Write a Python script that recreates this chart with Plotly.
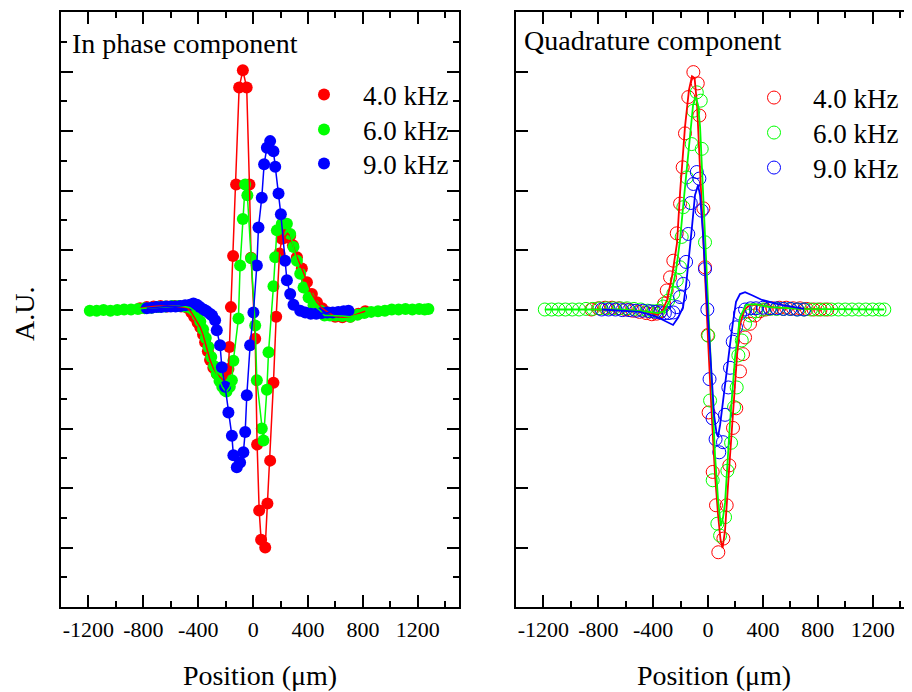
import plotly.graph_objects as go

# ---------------- data (position in µm, signal in A.U.) ----------------
# In-phase component (left panel)
ip_red_x = [-825, -775, -725, -675, -625, -575, -525, -480, -450, -430, -405, -385, -365, -350, -330, -314,
            -290, -265, -240, -217, -195, -180, -173, -162, -146, -124, -102, -75, -47, -27, -15, 15, 29, 44,
            58, 88, 104, 124, 148, 168, 192, 209, 225, 250, 270, 290, 319, 355, 392, 428, 465, 503, 547, 598,
            650, 708, 766, 817]
ip_red_y = [0.02, 0.04, 0.05, 0.06, 0.05, 0.06, 0.05, 0.03, -0.05, -0.12, -0.22, -0.3, -0.42, -0.55, -0.7,
            -0.85, -0.98, -1.08, -1.14, -1.19, -1.15, -1.0, -0.63, 0.04, 0.9, 2.1, 3.73, 4.02, 3.73, 2.1, 0.87,
            -0.49, -2.27, -3.38, -3.87, -4.0, -3.26, -2.54, -1.23, -0.12, 0.94, 1.19, 1.2, 1.28, 1.24, 1.08,
            0.88, 0.69, 0.46, 0.26, 0.12, 0.02, -0.05, -0.12, -0.13, -0.12, -0.07, -0.03]

ip_green_x = [-1190, -1140, -1090, -1040, -990, -940, -890, -840, -790, -740, -690, -640, -590, -545, -500,
              -460, -430, -405, -385, -365, -345, -325, -305, -285, -265, -245, -225, -205, -194, -170, -155,
              -144, -107, -95, -75, -58, -42, -15, 15, 27, 63, 75, 100, 112, 148, 161, 173, 209, 246, 270, 294,
              319, 343, 367, 404, 440, 490, 520, 560, 600, 650, 708, 760, 810, 860, 910, 960, 1010, 1060, 1110,
              1160, 1210, 1250, 1277]
ip_green_y = [-0.02, -0.02, -0.01, -0.02, -0.01, 0.0, 0.0, 0.01, 0.02, 0.03, 0.04, 0.05, 0.06, 0.06, 0.05,
              0.03, -0.02, -0.1, -0.2, -0.33, -0.48, -0.63, -0.8, -0.95, -1.08, -1.2, -1.3, -1.36, -1.38, -1.3,
              -1.19, -0.86, -0.15, 0.74, 1.52, 2.1, 1.92, 0.86, -0.27, -1.19, -2.0, -2.2, -1.35, -0.72, 0.39,
              0.88, 1.33, 1.44, 1.44, 1.27, 1.05, 0.82, 0.6, 0.37, 0.2, 0.07, -0.02, -0.1, -0.1, -0.1, -0.11,
              -0.12, -0.09, -0.06, -0.04, -0.03, -0.02, 0.0, 0.0, 0.01, 0.0, 0.01, 0.0, 0.01]

ip_blue_x = [-775, -740, -705, -670, -635, -600, -565, -530, -495, -460, -435, -410, -387, -360, -338, -315,
             -299, -277, -265, -241, -228, -204, -180, -155, -144, -119, -95, -71, -58, -46, -22, 2, 27, 39, 63,
             80, 100, 124, 148, 161, 185, 202, 233, 246, 270, 294, 343, 380, 420, 460, 500, 540, 580, 620, 660,
             695]
ip_blue_y = [0.02, 0.03, 0.04, 0.04, 0.05, 0.05, 0.05, 0.06, 0.07, 0.08, 0.1, 0.08, 0.04, 0.0, -0.03, -0.07,
             -0.1, -0.18, -0.35, -0.6, -0.97, -1.3, -1.73, -2.12, -2.45, -2.65, -2.57, -2.4, -2.06, -1.44, -0.6,
             -0.05, 0.74, 1.38, 1.88, 2.44, 2.72, 2.83, 2.66, 2.4, 1.95, 1.6, 0.82, 0.49, 0.26, 0.08, -0.02,
             -0.05, -0.07, -0.07, -0.06, -0.05, -0.05, -0.04, -0.03, -0.02]

# Quadrature component (right panel) - measured points
q_red_x = [-850, -800, -750, -700, -650, -600, -550, -500, -450, -410, -375, -345, -320, -301, -277, -253,
           -228, -204, -185, -168, -144, -107, -75, -63, -34, -22, -2, 4, 34, 58, 75, 112, 136, 155, 182, 206,
           233, 255, 270, 306, 343, 379, 420, 470, 520, 570, 620, 670, 720, 770, 820, 870]
q_red_y = [0.0, 0.02, 0.03, 0.03, 0.02, 0.0, -0.02, -0.04, -0.06, -0.08, -0.07, -0.03, 0.1, 0.32, 0.54, 0.82,
           1.28, 1.78, 2.39, 2.96, 3.57, 3.99, 3.8, 3.26, 1.7, 0.71, -0.43, -1.73, -2.73, -3.29, -4.08, -3.85,
           -3.29, -2.62, -1.99, -1.66, -1.04, -0.75, -0.47, -0.24, -0.1, -0.03, 0.0, 0.02, 0.03, 0.03, 0.02,
           0.02, 0.01, 0.0, 0.0, 0.0]

q_green_x = [-1190, -1140, -1090, -1040, -990, -940, -890, -840, -790, -740, -690, -640, -590, -540, -490,
             -440, -400, -360, -325, -290, -253, -228, -204, -192, -180, -155, -119, -107, -82, -53, -46, -22, 2,
             15, 34, 68, 88, 124, 141, 168, 190, 209, 221, 246, 270, 306, 350, 400, 450, 500, 550, 600, 650,
             700, 750, 800, 850, 900, 950, 1000, 1050, 1100, 1150, 1200, 1250, 1285]
q_green_y = [0.0, 0.0, 0.0, 0.0, 0.0, 0.0, 0.01, 0.01, 0.02, 0.02, 0.02, 0.02, 0.02, 0.01, 0.0, -0.02, -0.03,
             -0.02, 0.05, 0.15, 0.27, 0.49, 0.71, 1.22, 1.72, 2.22, 2.78, 3.34, 3.65, 3.51, 2.7, 1.13, -0.44,
             -1.53, -2.87, -3.6, -3.8, -3.49, -2.71, -2.24, -1.64, -1.31, -0.77, -0.52, -0.24, -0.1, -0.03, 0.0,
             0.01, 0.01, 0.01, 0.01, 0.0, 0.0, 0.0, 0.0, 0.0, 0.0, 0.0, 0.0, 0.0, 0.0, 0.0, 0.0, 0.0, 0.0]

q_blue_x = [-775, -725, -675, -625, -575, -525, -475, -425, -385, -350, -315, -285, -253, -228, -204, -180,
            -160, -144, -126, -107, -82, -63, -46, -22, -5, 11, 33, 55, 82, 109, 124, 148, 160, 180, 204, 233,
            270, 310, 350, 400, 450, 500, 550, 600, 650, 700]
q_blue_y = [0.0, 0.0, 0.0, -0.01, -0.01, -0.02, -0.02, -0.03, -0.04, -0.05, -0.06, -0.06, -0.05, 0.04, 0.21,
            0.43, 0.8, 1.27, 1.79, 2.11, 2.31, 2.2, 1.66, 0.68, 0.0, -1.17, -1.83, -2.18, -2.4, -2.23, -1.77,
            -1.31, -0.98, -0.54, -0.3, -0.07, 0.0, 0.02, 0.02, 0.03, 0.02, 0.02, 0.01, 0.01, 0.0, 0.0]

# Quadrature component - fitted curves
fit_red_x = [-855, -569, -438, -372, -336, -299, -263, -226, -204, -168, -139, -117, -98, -80, -58, -36, -15,
             7, 29, 51, 73, 91, 106, 124, 153, 182, 212, 233, 263, 306, 365, 489, 832]
fit_red_y = [0.0, -0.01, -0.04, -0.09, -0.04, 0.16, 0.55, 1.12, 1.96, 3.07, 3.69, 3.92, 3.89, 3.44, 2.34, 1.34,
             0.24, -0.85, -1.86, -2.78, -3.45, -3.87, -4.01, -3.71, -2.7, -1.69, -0.76, -0.26, -0.01, 0.08,
             0.08, 0.03, 0.0]

fit_green_x = [-1189, -642, -460, -365, -321, -277, -233, -204, -182, -146, -109, -90, -73, -58, -36, -15, 4,
               15, 51, 73, 93, 109, 124, 160, 197, 233, 277, 343, 452, 671, 1284]
fit_green_y = [0.0, 0.0, -0.03, -0.06, -0.03, 0.16, 0.66, 1.17, 1.72, 2.6, 3.44, 3.57, 3.44, 3.07, 1.96, 0.83,
               -0.01, -0.76, -2.45, -3.2, -3.64, -3.5, -3.25, -1.91, -0.8, -0.13, 0.08, 0.09, 0.04, 0.01, 0.0]

fit_blue_x = [-773, -496, -387, -314, -255, -219, -182, -160, -146, -117, -95, -73, -58, -36, -15, 0, 22, 44,
              62, 73, 88, 109, 131, 160, 182, 204, 233, 270, 321, 394, 525, 700]
fit_blue_y = [0.0, -0.04, -0.11, -0.19, -0.26, -0.14, 0.04, 0.41, 0.71, 1.39, 1.92, 2.09, 1.92, 1.25, 0.41,
              -0.18, -1.1, -1.77, -2.08, -2.14, -1.94, -1.52, -1.1, -0.6, -0.21, 0.13, 0.26, 0.29, 0.24, 0.16,
              0.08, 0.01]

freq_labels = ["4.0 kHz", "6.0 kHz", "9.0 kHz"]
colors = ["#FF0000", "#00FF00", "#0000FF"]
x_tickvals = [-1200, -800, -400, 0, 400, 800, 1200]
x_ticktext = ["-1200", "-800", "-400", "0", "400", "800", "1200"]

FONT = "Liberation Serif, Times New Roman, serif"
W, H = 904, 684   # page body has an 8 px margin
OFF = 8


def px(v):
    return (v - OFF) / W


def py(v):
    return (607 - v) / 595


fig = go.Figure()

ip_sets = [(ip_red_x, ip_red_y), (ip_green_x, ip_green_y), (ip_blue_x, ip_blue_y)]
q_sets = [(q_red_x, q_red_y), (q_green_x, q_green_y), (q_blue_x, q_blue_y)]
fit_sets = [(fit_red_x, fit_red_y), (fit_green_x, fit_green_y), (fit_blue_x, fit_blue_y)]

left_legends = ["legend", "legend3", "legend4"]
right_legends = ["legend2", "legend5", "legend6"]
left_rows = [95, 130, 164]
right_rows = [98, 133, 168]

for (xs, ys), c, lab, lg in zip(ip_sets, colors, freq_labels, left_legends):
    fig.add_trace(go.Scatter(x=xs, y=ys, mode="markers", name=lab, legend=lg,
                             marker=dict(color=c, size=12, line=dict(width=0)),
                             xaxis="x", yaxis="y"))
for (xs, ys), c in zip(ip_sets, colors):
    fig.add_trace(go.Scatter(x=xs, y=ys, mode="lines", showlegend=False,
                             line=dict(color=c, width=1.5), xaxis="x", yaxis="y"))

for (xs, ys), c, lab, lg in zip(q_sets, colors, freq_labels, right_legends):
    fig.add_trace(go.Scatter(x=xs, y=ys, mode="markers", name=lab, legend=lg,
                             marker=dict(symbol="circle-open", color=c, size=13, line=dict(width=1, color=c)),
                             xaxis="x2", yaxis="y2"))
for (xs, ys), c in zip(fit_sets, colors):
    fig.add_trace(go.Scatter(x=xs, y=ys, mode="lines", showlegend=False,
                             line=dict(color=c, width=1.8), xaxis="x2", yaxis="y2"))

xcommon = dict(range=[-1400, 1500], tickvals=x_tickvals, ticktext=x_ticktext, ticks="inside", ticklen=12,
               tickwidth=2, tickcolor="black", minor=dict(dtick=200, ticks="inside", ticklen=6, tickwidth=2,
                                                          tickcolor="black"),
               showline=True, linewidth=2, linecolor="black", mirror="allticks", showgrid=False, zeroline=False,
               ticklabelstandoff=2,
               tickfont=dict(family=FONT, size=22, color="black"),
               title=dict(text="Position (\u03bcm)", font=dict(family=FONT, size=28, color="black"), standoff=24))

legend_style = dict(xanchor="left", yanchor="middle", bgcolor="rgba(0,0,0,0)",
                    font=dict(family=FONT, size=27, color="black"), itemwidth=68, tracegroupgap=0)
legends = {}
for lg, row in zip(left_legends, left_rows):
    legends[lg] = dict(x=px(285), y=py(row), **legend_style)
for lg, row in zip(right_legends, right_rows):
    legends[lg] = dict(x=px(735), y=py(row), **legend_style)

fig.update_layout(
    width=W, height=H,
    margin=dict(l=0, r=0, t=12 - OFF, b=85),
    paper_bgcolor="white", plot_bgcolor="white",
    font=dict(family=FONT, color="black"),
    xaxis=dict(domain=[px(61), px(459)], anchor="y", **xcommon),
    yaxis=dict(domain=[0, 1], anchor="x", range=[-5, 5], dtick=1, ticks="inside", ticklen=12, tickwidth=2,
               tickcolor="black", minor=dict(dtick=0.5, ticks="inside", ticklen=6, tickwidth=2, tickcolor="black"),
               showline=True, linewidth=2, linecolor="black", mirror="allticks", showticklabels=False,
               showgrid=False, zeroline=False),
    xaxis2=dict(domain=[px(516), 1.0], anchor="y2", **{**xcommon, "range": [-1400, 1487]}),
    yaxis2=dict(domain=[0, 1], anchor="x2", range=[-5, 5], dtick=1, ticks="inside", ticklen=12, tickwidth=2,
                tickcolor="black", showline=True, linewidth=2, linecolor="black", mirror=False,
                showticklabels=False, showgrid=False, zeroline=False),
    yaxis3=dict(overlaying="y2", side="right", anchor="x2", range=[-5, 5], dtick=2, tick0=0, ticks="inside",
                ticklen=10, tickwidth=2, tickcolor="black",
                minor=dict(dtick=1, ticks="inside", ticklen=5, tickwidth=2, tickcolor="black"),
                showline=True, linewidth=2, linecolor="black", showticklabels=False, showgrid=False,
                zeroline=False),
    showlegend=True,
    annotations=[
        dict(text="In phase component", x=px(70), y=py(43), xref="paper", yref="paper",
             xanchor="left", yanchor="middle", showarrow=False, font=dict(family=FONT, size=28, color="black")),
        dict(text="Quadrature component", x=px(522), y=py(40), xref="paper", yref="paper",
             xanchor="left", yanchor="middle", showarrow=False, font=dict(family=FONT, size=28, color="black")),
        dict(text="A.U.", x=px(24), y=py(314), xref="paper", yref="paper", textangle=-90,
             xanchor="center", yanchor="middle", showarrow=False, font=dict(family=FONT, size=28, color="black")),
    ],
    **legends,
)

fig.write_html("out.html")
